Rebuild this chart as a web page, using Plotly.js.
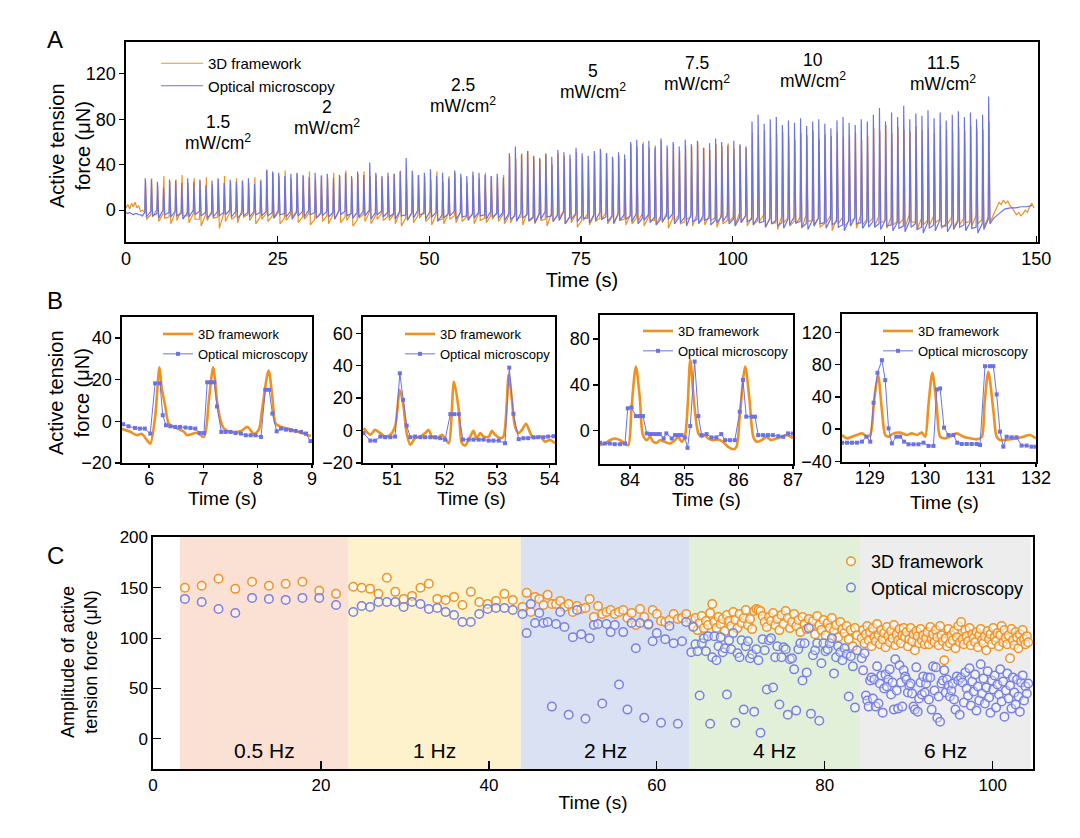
<!DOCTYPE html>
<html><head><meta charset="utf-8">
<script src="https://cdn.plot.ly/plotly-3.0.1.min.js"></script>
<style>html,body{margin:0;padding:0;background:#fff}#chart{width:1080px;height:838px}</style>
</head><body><div id="chart"></div>
<script>
// ---------------- Panel A data (1 Hz spikes, start 3.1 s) ----------------
const spikeStart = 3.1, spikePeriod = 1.0;
const aO_peak = [26,28,22,30,25,27,31,24,28,26,29,23,27,30,25,28,26,24,29,27,
  36,33,30,35,28,32,30,34,27,31,29,33,30,35,28,32,34,30,31,29,
  30,32,35,28,33,31,30,27,34,25,30,33,29,24,31,28,33,30,29,31,
  48,46,50,52,47,45,49,40,50,48,45,51,47,44,49,52,50,46,48,45,
  58,56,60,55,57,61,54,58,52,57,56,60,55,53,58,56,59,54,57,55,
  68,66,70,64,67,69,65,62,68,66,70,63,67,65,69,64,66,68,62,65,
  72,70,75,68,73,71,69,74,70,72,68,75,71,69,73,70,74,72,71,78];
const aB_peak = [28,27,25,20,27,26,24,28,25,27,22,26,28,24,27,25,26,28,23,26,
  35,34,33,30,32,33,31,29,33,30,32,28,31,33,30,34,31,42,33,30,
  33,32,34,46,35,31,33,36,30,33,28,35,32,30,34,33,31,30,32,29,
  50,56,49,52,48,46,50,47,53,51,49,55,50,48,52,54,50,47,51,49,
  60,62,58,61,55,63,57,60,56,62,58,61,55,59,63,60,57,61,58,56,
  78,84,76,80,82,75,79,77,81,74,78,80,76,72,79,82,77,75,80,78,
  84,90,78,86,82,92,80,85,83,88,81,86,79,84,87,82,86,80,84,100];
const aO_base = [-2,-4,1,-3,-6,-2,0,-5,-3,-8,-4,-1,-6,-3,-2,-5,0,-4,-3,-6,
  -3,-5,-2,-7,-4,-1,-6,-3,-8,-2,-5,-4,-1,-6,-3,-9,-4,-2,-5,-3,
  -6,-4,-2,-7,-3,-5,-1,-6,-4,-8,-3,-5,-2,-6,-4,-3,-7,-5,-2,-4,
  -5,-3,-6,-2,-7,-4,-8,-3,-5,-1,-6,-4,-9,-3,-5,-7,-2,-6,-4,-8,
  -4,-7,-3,-6,-9,-5,-2,-7,-4,-10,-6,-3,-8,-5,-7,-4,-9,-6,-3,-5,
  -6,-9,-4,-8,-11,-5,-7,-10,-6,-4,-9,-7,-12,-5,-8,-6,-10,-7,-4,-8,
  -7,-5,-9,-6,-10,-8,-4,-11,-7,-9,-5,-8,-12,-6,-9,-7,-10,-5,-8,-6];
const aO_low = [-8,-6,-10,-7,-12,-9,-5,-11,-8,-14,-9,-7,-16,-10,-8,-11,-6,-9,-12,-8,
  -10,-7,-12,-9,-6,-11,-8,-13,-7,-10,-12,-8,-11,-9,-14,-7,-10,-12,-8,-9,
  -9,-12,-14,-8,-11,-7,-10,-13,-9,-12,-8,-11,-10,-7,-12,-9,-11,-8,-10,-12,
  -11,-8,-13,-10,-12,-9,-14,-10,-7,-12,-11,-15,-9,-13,-10,-8,-12,-11,-9,-13,
  -12,-10,-14,-9,-13,-11,-16,-10,-12,-8,-14,-11,-13,-9,-15,-12,-10,-13,-11,-14,
  -13,-10,-15,-12,-17,-11,-14,-12,-16,-10,-13,-15,-11,-18,-12,-14,-10,-16,-13,-11,
  -14,-11,-16,-13,-12,-15,-10,-17,-13,-14,-11,-16,-12,-15,-13,-11,-14,-12,-15,-10];
const aB_base = [-2,-1,-3,0,-2,-1,-3,-2,0,-1,-2,-3,-1,-2,0,-1,-3,-2,-1,-2,
  -1,-2,0,-3,-1,-2,-1,0,-2,-3,-1,-2,0,-1,-3,-2,-1,0,-2,-1,
  -2,-3,-1,-4,-2,0,-3,-1,-2,-4,-3,-1,-2,-5,-3,-2,-4,-1,-3,-2,
  -3,-5,-2,-4,-6,-3,-1,-5,-4,-2,-6,-3,-5,-7,-4,-2,-6,-5,-3,-4,
  -5,-3,-7,-4,-6,-8,-5,-3,-7,-6,-4,-8,-5,-7,-9,-6,-4,-8,-7,-5,
  -8,-6,-10,-7,-9,-11,-8,-6,-10,-12,-9,-7,-11,-8,-10,-13,-9,-7,-11,-10,
  -10,-12,-9,-13,-11,-14,-10,-12,-15,-11,-13,-9,-14,-12,-10,-13,-11,-15,-12,-8];
const aB_low = [-6,-5,-7,-4,-6,-5,-8,-6,-4,-5,-7,-6,-5,-4,-6,-7,-5,-6,-4,-5,
  -5,-7,-4,-6,-8,-5,-6,-4,-7,-5,-6,-8,-4,-5,-7,-6,-5,-8,-4,-6,
  -6,-8,-5,-9,-7,-4,-8,-6,-10,-7,-5,-8,-6,-9,-7,-5,-8,-6,-7,-9,
  -8,-10,-7,-9,-11,-8,-6,-10,-9,-12,-8,-10,-7,-11,-9,-8,-10,-12,-9,-8,
  -10,-12,-9,-11,-13,-10,-8,-12,-11,-14,-10,-12,-9,-13,-11,-10,-12,-14,-11,-10,
  -13,-11,-15,-12,-14,-16,-13,-11,-15,-17,-14,-12,-16,-13,-15,-18,-14,-12,-16,-15,
  -15,-17,-14,-18,-16,-19,-15,-17,-20,-16,-18,-14,-19,-17,-15,-18,-16,-20,-17,-12];
const aO_pre = [2,5,1,6,3,7,2,4,-1,0];
const aB_pre = [-2,-3,-2,-3,-4,-3,-3,-4,-4,-5];
const aO_post = [-6,-2,3,7,5,9,6,8,4,2,-1,-4,-2,-5,-3,0,-2,3,6,2];
const aB_post = [-7,-3,1,2,2,3,3,4];
const intensityLabels = ["1.5","2","2.5","5","7.5","10","11.5"];

// ---------------- Panel B data ----------------
const b1O_t = [5.49,5.65,5.77,5.86,5.96,6.02,6.11,6.19,6.23,6.30,6.36,6.45,6.64,6.70,6.88,7.01,7.10,7.18,7.25,7.32,7.38,7.50,7.69,7.81,7.93,8.02,8.08,8.20,8.27,8.33,8.40,8.55,8.74,8.92,8.98];
const b1O_v = [-3.5,-5,-6.7,-6,-9,-10.8,2,25.9,16.3,6.8,-1.1,-2.7,-5,-6.7,-5.5,-7.5,10,25.9,9.9,0,-3.5,-5,-4.6,-2.7,-6,-4,5.6,24.3,11.6,-1.1,-2.3,-3.5,-5,-6.7,-7];
const b1B_t = [5.52,5.62,5.74,5.83,5.92,6.02,6.11,6.20,6.25,6.31,6.39,6.48,6.57,6.67,6.76,6.85,6.93,7.01,7.07,7.14,7.20,7.25,7.33,7.41,7.50,7.59,7.69,7.78,7.87,7.96,8.06,8.14,8.21,8.27,8.35,8.43,8.52,8.61,8.70,8.80,8.89,8.97];
const b1B_v = [-1.4,-2.4,-3.2,-3.5,-3.5,-5.9,18.2,18.2,2.9,-1.9,-2.4,-2.7,-2.7,-3,-3.2,-3.5,-5.6,-5.6,18.7,18.7,18.7,7.1,-5.1,-5.1,-5.1,-5.6,-5.9,-6.7,-6.7,-6.7,-7.5,15.1,15.1,3.7,-4.8,-3.5,-4,-4.3,-4.6,-5.1,-5.9,-9.5];

const b2O_t = [50.46,50.59,50.68,50.78,50.87,50.97,51.06,51.15,51.22,51.28,51.35,51.44,51.54,51.63,51.70,51.76,51.85,51.95,52.01,52.08,52.18,52.27,52.33,52.39,52.49,52.55,52.61,52.68,52.74,52.84,52.90,52.96,53.06,53.12,53.22,53.28,53.34,53.41,53.47,53.55,53.63,53.69,53.82,53.91,54.01,54.10];
const b2O_v = [1.5,-2.6,0.4,-1.6,-3.7,-2.6,2.5,25,14.8,-1.6,-8.8,-4.7,-3.7,-1.6,0.4,-3.7,-4.7,-2.6,-4.7,-7.8,30.2,12.7,-7.8,-9.2,-3.7,-0.2,-4.7,-1.6,-3.7,-3.7,-0.2,-2.6,-4.7,-3.7,34.3,18.9,2.5,-1.6,0.4,4.1,-1.6,-4.7,-3.7,-6.8,-5.8,-7.8];
const b2B_t = [50.46,50.59,50.68,50.78,50.87,50.97,51.06,51.15,51.21,51.28,51.35,51.44,51.54,51.63,51.73,51.82,51.92,52.01,52.11,52.18,52.27,52.35,52.46,52.55,52.65,52.74,52.84,52.93,53.03,53.15,53.23,53.31,53.41,53.50,53.59,53.69,53.78,53.88,53.97,54.07];
const b2B_v = [-1.6,-6.2,-6.2,-3.7,-4.1,-4.1,-3.7,35.3,18.9,3.1,-4.1,-3.7,-4.1,-4.1,-4.1,-4.1,-4.7,-5.6,10.1,10.1,10.1,-5.6,-5.6,-5.6,-5.6,-5.6,-6.2,-6.2,-6.2,-7.8,38.8,10.3,-5.3,-4.7,-4.7,-4.1,-4.1,-4.1,-3.7,-3.5];

const b3O_t = [83.45,83.54,83.63,83.72,83.82,83.91,83.97,84.03,84.11,84.18,84.24,84.31,84.37,84.43,84.49,84.55,84.64,84.73,84.83,84.89,84.95,85.01,85.06,85.11,85.18,85.26,85.32,85.38,85.44,85.53,85.62,85.71,85.81,85.90,85.96,86.02,86.12,86.20,86.27,86.33,86.42,86.51,86.60,86.69,86.79,86.88,86.97,87.0];
const b3O_v = [-12.6,-11.1,-8.2,-6.7,-8.2,-11.7,-12.6,20,56.1,29.8,-3.8,-8.2,-5.3,-9.6,-10.5,-8.2,-9.6,-11.1,-8.2,-5.3,-9.6,-5.3,20,61.9,25,-2.3,-5.3,-3.8,-6.7,-8.2,-7.6,-9.6,-14,-16.1,-14,12.3,56.1,26.9,-5.3,-9.6,-8.2,-5.3,-8.2,-6.7,-5.3,-3.8,-5.3,-6.7];
const b3B_t = [83.45,83.54,83.63,83.72,83.82,83.91,83.96,84.03,84.11,84.18,84.24,84.31,84.37,84.43,84.49,84.55,84.62,84.67,84.77,84.83,84.89,84.95,85.01,85.06,85.11,85.19,85.26,85.32,85.41,85.50,85.59,85.68,85.75,85.84,85.93,86.02,86.08,86.14,86.24,86.30,86.36,86.45,86.54,86.63,86.73,86.82,86.91,87.0];
const b3B_v = [-10.5,-11.1,-11.1,-11.7,-11.7,-11.1,19.6,20.4,12.8,12.8,12.8,-2.3,-2.9,-2.9,-2.9,-2.9,-6.7,-2.3,-6.7,-3.8,-3.8,-3.8,-5.8,-14.9,4.1,60.4,12.8,-3.8,-2.9,-5.8,-5.8,-2.9,-8.2,-8.2,-8.2,16.6,44.4,12.3,12.3,12.3,-3.8,-3.8,-3.8,-3.8,-4.7,-5.3,-2.3,-2.3];

const b4O_t = [128.50,128.59,128.68,128.77,128.86,128.95,129.01,129.08,129.15,129.22,129.28,129.34,129.43,129.55,129.67,129.76,129.85,129.94,130.0,130.06,130.13,130.21,130.27,130.36,130.45,130.57,130.69,130.81,130.93,131.02,131.07,131.14,131.23,131.29,131.35,131.44,131.53,131.65,131.77,131.89,132.0];
const b4O_v = [-7.4,-11.6,-9.5,-7.4,-5.4,-9.5,-7.4,36,67,23.6,-7.4,-9.5,-5.4,-4.5,-7.4,-5.4,-7.4,-4.5,-9.5,30,69.9,27.7,-9.5,-11.6,-9.5,-5.4,-9.5,-11.6,-12.8,-10,30,71.1,23.6,-9.5,-13.6,-13.6,-12.8,-11.6,-9.5,-7.4,-11.6];
const b4B_t = [128.50,128.59,128.68,128.77,128.86,128.94,129.01,129.07,129.14,129.22,129.28,129.34,129.40,129.48,129.55,129.62,129.70,129.79,129.88,129.97,130.06,130.15,130.21,130.27,130.34,130.42,130.51,130.58,130.66,130.75,130.84,130.93,130.99,131.08,131.17,131.23,131.29,131.35,131.41,131.47,131.56,131.65,131.74,131.83,131.92,132.0];
const b4B_v = [-17,-17,-17,-17,-15.7,-9.5,-15.7,32.7,69.9,85.6,60.8,0.8,-17.8,-9.5,-9.5,-15.7,-19,-19,-19,-17,-21,-21,49.2,50.4,1.7,-7.4,-7.4,-17,-18.6,-18.6,-18.6,-18.6,-19.8,78.1,78.1,78.1,43,-3.3,-21.9,-9.5,-10.3,-10.3,-20.6,-20.6,-21.9,-21.9];

// ---------------- Panel C data ----------------
const freqLabels = ["0.5 Hz","1 Hz","2 Hz","4 Hz","6 Hz"];
const freqHz = [0.5, 1, 2, 4, 6];
const freqFirstBeat = [3.8, 23.85, 44.0, 64.1, 84.4];
const freqBounds = [3.2, 23.3, 43.8, 63.9, 84.2, 104.5];
const c05_O = [150,152,159,149,156,152,154,156,147,144];
const c05_B = [139,136,129,125,140,139,138,140,140,133];
const c1_O = [151,150,149,144,160,146,139,142,150,154,139,138,141,133,146,136,134,137,144,138];
const c1_B = [126,132,131,136,136,136,131,136,134,129,130,126,123,116,116,124,129,130,130,128];
const c2_O = [131,145,126,141,139,133,143,134,134,137,131,134,126,132,129,130,139,121,132,124,126,128,124,126,128,120,125,113,129,121,113,128,124,117,116,118,124,119,120,124];
const c2_B = [124,105,134,115,125,115,116,32,114,126,111,24,101,128,104,20,100,113,114,35,114,106,113,54,106,29,115,90,115,21,114,97,105,16,99,112,95,15,97,116];
const c4_O = [118,112,120,108,115,122,110,117,113,125,134,116,110,121,114,119,107,123,117,112,
  126,118,110,124,115,120,128,113,119,109,127,129,128,127,122,116,111,121,117,125,
  113,119,108,123,114,127,120,110,116,124,112,118,106,121,114,109,119,111,117,104,
  122,113,108,118,103,115,110,120,107,113,101,116,109,105,112,99,108,92,110,103];
const c4_B = [86,111,94,87,43,95,100,87,102,15,81,102,78,92,101,86,90,44,98,89,
  105,16,85,81,98,29,92,97,80,84,27,89,78,6,99,88,49,98,100,51,
  81,92,34,81,91,89,24,79,80,69,28,89,95,58,95,66,110,25,83,88,
  95,18,75,95,87,89,95,100,65,81,92,86,78,90,84,42,82,72,31,88];
const c6_O = [100,108,95,104,112,98,106,92,110,101,97,114,103,94,108,99,105,91,111,102,
  96,107,100,113,93,104,98,109,95,103,110,101,106,92,99,110,97,104,88,107,
  102,95,109,98,103,94,100,106,94,111,99,104,96,108,101,93,112,103,97,78,
  100,92,109,95,103,98,107,90,101,112,96,116,99,94,108,102,97,110,93,104,
  100,96,106,91,103,109,98,95,102,88,107,99,104,94,110,101,97,105,92,103,
  112,96,108,100,94,103,80,109,98,93,106,101,90,104,97,108,99,94,102,96];
const c6_B = [80,68,85,43,38,32,58,61,40,59,32,72,35,55,63,26,50,64,52,59,
  69,44,56,29,79,48,30,73,56,32,68,62,59,46,53,55,45,32,29,71,
  27,40,56,44,62,46,55,61,39,61,29,72,48,71,21,42,17,55,58,68,
  46,59,53,42,48,55,39,29,62,58,24,61,56,36,66,50,43,70,33,57,
  47,64,28,52,38,74,45,60,35,51,67,41,26,58,49,63,31,54,44,69,
  37,57,22,48,65,40,53,30,61,46,34,59,42,27,56,63,38,52,45,55];

// ---------------- styling ----------------
const ORANGE = '#F0901E', BLUE = '#6A72E4';
const CO = '#EF9326', CB = '#7981E2';
const W = 1080, H = 838;
const px = x => x / W, py = y => 1 - y / H;
const FONT = 'Liberation Sans, Arial, sans-serif';

function buildA(pre, peaks, base, low, post, postStart, postStep, peakOff) {
  const x = [], y = [];
  pre.forEach((v, k) => { x.push(k * 0.3); y.push(v); });
  peaks.forEach((p, i) => {
    const t = spikeStart + i * spikePeriod;
    x.push(t); y.push(base[i]);
    x.push(t + peakOff); y.push(p);
    x.push(t + 0.28); y.push(low[i]);
  });
  post.forEach((v, k) => { x.push(postStart + k * postStep); y.push(v); });
  return {x, y};
}
const aO = buildA(aO_pre, aO_peak, aO_base, aO_low, aO_post, 142.8, 0.36, 0.14);
const aB = buildA(aB_pre, aB_peak, aB_base, aB_low, aB_post, 143.0, 0.9, 0.07);

const traces = [];
traces.push({x: aO.x, y: aO.y, type: 'scatter', mode: 'lines', name: '3D framework',
  line: {color: ORANGE, width: 1.2}, xaxis: 'x', yaxis: 'y', legend: 'legend'});
traces.push({x: aB.x, y: aB.y, type: 'scatter', mode: 'lines', name: 'Optical microscopy',
  line: {color: BLUE, width: 1.2}, xaxis: 'x', yaxis: 'y', legend: 'legend'});

const bSets = [[b1O_t,b1O_v,b1B_t,b1B_v],[b2O_t,b2O_v,b2B_t,b2B_v],[b3O_t,b3O_v,b3B_t,b3B_v],[b4O_t,b4O_v,b4B_t,b4B_v]];
bSets.forEach((s, k) => {
  const n = k + 2;
  traces.push({x: s[0], y: s[1], type: 'scatter', mode: 'lines', name: '3D framework',
    line: {color: ORANGE, width: 2.6, shape: 'spline', smoothing: 0.8},
    xaxis: 'x' + n, yaxis: 'y' + n, legend: 'legend' + n});
  traces.push({x: s[2], y: s[3], type: 'scatter', mode: 'lines+markers', name: 'Optical microscopy',
    line: {color: BLUE, width: 1}, marker: {symbol: 'square', size: 4, color: BLUE},
    xaxis: 'x' + n, yaxis: 'y' + n, legend: 'legend' + n});
});

const cO = [c05_O, c1_O, c2_O, c4_O, c6_O], cB = [c05_B, c1_B, c2_B, c4_B, c6_B];
const cxO = [], cyO = [], cxB = [], cyB = [];
freqHz.forEach((f, r) => {
  cO[r].forEach((v, i) => { cxO.push(freqFirstBeat[r] + i / f); cyO.push(v); });
  cB[r].forEach((v, i) => { cxB.push(freqFirstBeat[r] + i / f); cyB.push(v); });
});
traces.push({x: cxO, y: cyO, type: 'scatter', mode: 'markers', name: '3D framework',
  marker: {symbol: 'circle', size: 8.5, color: 'rgba(255,255,255,0.55)', line: {color: CO, width: 1.5}},
  xaxis: 'x6', yaxis: 'y6', legend: 'legend6'});
traces.push({x: cxB, y: cyB, type: 'scatter', mode: 'markers', name: 'Optical microscopy',
  marker: {symbol: 'circle', size: 8.5, color: 'rgba(255,255,255,0.35)', line: {color: CB, width: 1.5}},
  xaxis: 'x6', yaxis: 'y6', legend: 'legend6'});

function axis(o) {
  return Object.assign({showline: true, mirror: true, linecolor: '#000', linewidth: 1.6,
    ticks: 'outside', ticklen: 5, tickwidth: 1.3, tickcolor: '#000', showgrid: false, zeroline: false,
    tickfont: {size: 18, color: '#000', family: FONT}}, o);
}
const ttl = (t, s, so) => ({text: t, standoff: so, font: {size: s, color: '#000', family: FONT}});
const bx = {ticklen: 3, ticklabelstandoff: -4};

const layout = {
  width: W, height: H, margin: {l: 0, r: 0, t: 0, b: 0},
  paper_bgcolor: '#fff', plot_bgcolor: 'rgba(0,0,0,0)',
  font: {family: FONT, color: '#000'},
  xaxis: axis({domain: [px(126), px(1038)], anchor: 'y', range: [0, 150.3], dtick: 25, ticks: 'inside', ticklen: 6,
    title: ttl('Time (s)', 20, 2)}),
  yaxis: axis({domain: [py(242), py(42)], anchor: 'x', range: [-28, 148], tickvals: [0, 40, 80, 120]}),
  xaxis2: axis(Object.assign({domain: [px(122), px(312)], anchor: 'y2', range: [5.5, 9], dtick: 1}, bx)),
  yaxis2: axis({domain: [py(463), py(317)], anchor: 'x2', range: [-20, 50], dtick: 20}),
  xaxis3: axis(Object.assign({domain: [px(363), px(555)], anchor: 'y3', range: [50.45, 54.1], dtick: 1}, bx)),
  yaxis3: axis({domain: [py(463), py(317)], anchor: 'x3', range: [-20, 70], dtick: 20}),
  xaxis4: axis(Object.assign({domain: [px(600), px(793)], anchor: 'y4', range: [83.45, 87], dtick: 1}, bx)),
  yaxis4: axis({domain: [py(464), py(315)], anchor: 'x4', range: [-29, 101], tickvals: [0, 40, 80]}),
  xaxis5: axis(Object.assign({domain: [px(842), px(1036)], anchor: 'y5', range: [128.5, 132], dtick: 1}, bx)),
  yaxis5: axis({domain: [py(462), py(314)], anchor: 'x5', range: [-41, 143], tickvals: [-40, 0, 40, 80, 120]}),
  xaxis6: axis({domain: [px(153), px(1033)], anchor: 'y6', range: [0, 104.8], dtick: 20, ticks: 'inside', ticklen: 8,
    tickfont: {size: 17, color: '#000', family: FONT}, title: ttl('Time (s)', 19, 1)}),
  yaxis6: axis({domain: [py(769), py(537)], anchor: 'x6', range: [-30, 200.5], dtick: 50, ticks: 'inside', ticklen: 8,
    tickfont: {size: 17, color: '#000', family: FONT}}),
  legend: {x: px(156), y: py(47), xanchor: 'left', yanchor: 'top', bgcolor: 'rgba(0,0,0,0)',
    font: {size: 15, family: FONT, color: '#000'}, tracegroupgap: 0, itemwidth: 42},
  shapes: [], annotations: []
};
const legB = [[158, 319], [400, 319], [638, 316], [878, 316]];
legB.forEach((p, k) => {
  layout['legend' + (k + 2)] = {x: px(p[0]), y: py(p[1]), xanchor: 'left', yanchor: 'top', bgcolor: 'rgba(0,0,0,0)',
    font: {size: 13, family: FONT, color: '#000'}, tracegroupgap: 0, itemwidth: 30};
});
layout.legend6 = {x: px(831), y: py(543), xanchor: 'left', yanchor: 'top', bgcolor: 'rgba(0,0,0,0)',
  font: {size: 18, family: FONT, color: '#000'}, tracegroupgap: 0, itemwidth: 30};

const bgCols = ['#FBE1D3', '#FDF2CC', '#DAE1F3', '#E2EFD9', '#EDEDED'];
freqLabels.forEach((lab, r) => {
  layout.shapes.push({type: 'rect', xref: 'x6', yref: 'y6', x0: freqBounds[r], x1: freqBounds[r + 1], y0: -30, y1: 200.5,
    fillcolor: bgCols[r], line: {width: 0}, layer: 'below'});
  layout.annotations.push({xref: 'x6', yref: 'y6', x: (freqBounds[r] + freqBounds[r + 1]) / 2, y: -12, text: lab,
    showarrow: false, font: {size: 21, family: FONT, color: '#000'}});
});

const intensityPos = [[218, 122], [327, 107], [463, 85], [593, 71], [697, 63], [813, 60], [943, 63]];
intensityLabels.forEach((lab, k) => {
  layout.annotations.push({xref: 'paper', yref: 'paper', x: px(intensityPos[k][0]), y: py(intensityPos[k][1]),
    text: lab, showarrow: false, xanchor: 'center', yanchor: 'middle',
    font: {size: 17.5, family: FONT, color: '#000'}});
  layout.annotations.push({xref: 'paper', yref: 'paper', x: px(intensityPos[k][0]), y: py(intensityPos[k][1] + 20),
    text: 'mW/cm<sup>2</sup>', showarrow: false, xanchor: 'center', yanchor: 'middle',
    font: {size: 17.5, family: FONT, color: '#000'}});
});
// axis titles placed as rotated / free annotations
const yTitles = [['Active tension<br>force (μN)', 70, 146, 20], ['Active tension<br>force (μN)', 69, 393, 20],
  ['Amplitude of active<br>tension force (μN)', 79, 662, 18]];
yTitles.forEach(t => {
  layout.annotations.push({xref: 'paper', yref: 'paper', x: px(t[1]), y: py(t[2]), text: t[0], textangle: -90,
    showarrow: false, xanchor: 'center', yanchor: 'middle', align: 'center', font: {size: t[3], family: FONT, color: '#000'}});
});
[[222, 498], [471, 498], [706, 499], [944, 502]].forEach(p => {
  layout.annotations.push({xref: 'paper', yref: 'paper', x: px(p[0]), y: py(p[1]), text: 'Time (s)', showarrow: false,
    xanchor: 'center', yanchor: 'middle', font: {size: 19, family: FONT, color: '#000'}});
});
[['A', 55, 40], ['B', 55, 300], ['C', 55, 555]].forEach(l => {
  layout.annotations.push({xref: 'paper', yref: 'paper', x: px(l[1]), y: py(l[2]), text: l[0], showarrow: false,
    xanchor: 'center', yanchor: 'middle', font: {size: 24, family: FONT, color: '#000'}});
});

Plotly.newPlot('chart', traces, layout, {staticPlot: true, displayModeBar: false});
</script>
</body></html>
